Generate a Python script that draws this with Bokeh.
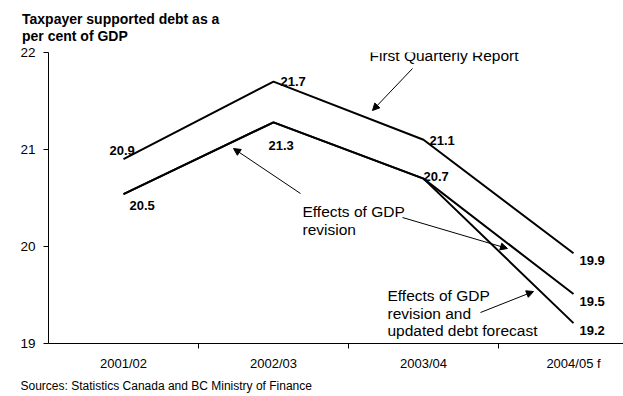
from bokeh.plotting import figure
from bokeh.models import Range1d, FixedTicker, Label, Arrow, NormalHead, ColumnDataSource, Title
from bokeh.core.properties import value
from bokeh.embed import file_html
from bokeh.resources import INLINE

# ---- data ----
periods = ["2001/02", "2002/03", "2003/04", "2004/05 f"]
first_quarterly = [20.9, 21.7, 21.1, 19.93]
gdp_revision = [20.54, 21.28, 20.7, 19.51]
gdp_and_debt = [20.54, 21.28, 20.7, 19.21]
y_ticks = [19, 20, 21, 22]

title_lines = ["Taxpayer supported debt as a", "per cent of GDP"]
source_text = "Sources: Statistics Canada and BC Ministry of Finance"

# ---- layout ----
FONT = "Liberation Sans"
W, H = 623, 396
LEFT, TOP, BOTTOM = 48, 52, 53
CAT_W = 150
FRAME_H = H - TOP - BOTTOM
Y0, Y1 = 19, 22


def dx(px):
    return (px - LEFT) / CAT_W - 0.5


def dy(py):
    return Y1 - (py - TOP) * (Y1 - Y0) / FRAME_H


xs = list(range(len(periods)))
x_end = (W - LEFT) / CAT_W - 0.5

p = figure(width=W, height=H, output_backend="svg", toolbar_location=None,
           x_range=Range1d(-0.5, x_end), y_range=Range1d(Y0, Y1),
           min_border_left=LEFT, min_border_right=0,
           min_border_top=TOP, min_border_bottom=BOTTOM)
p.title.visible = False
p.outline_line_color = None
p.grid.visible = False
p.background_fill_color = "white"
p.border_fill_color = "white"

for series in (first_quarterly, gdp_revision, gdp_and_debt):
    p.line(xs, series, line_color="black", line_width=2)

# ---- axes ----
ya = p.yaxis[0]
ya.ticker = FixedTicker(ticks=y_ticks, minor_ticks=[])
ya.axis_line_color = "black"
ya.major_tick_line_color = "black"
ya.major_tick_out = 5
ya.major_tick_in = 0
ya.minor_tick_line_color = None
ya.major_label_standoff = 8
ya.major_label_text_font = FONT
ya.major_label_text_font_size = "13.5px"
ya.major_label_text_color = "black"

xa = p.xaxis[0]
xa.ticker = FixedTicker(ticks=xs, minor_ticks=[i + 0.5 for i in xs[:-1]])
xa.major_label_overrides = {i: lab for i, lab in zip(xs, periods)}
xa.axis_line_color = "black"
xa.major_tick_line_color = None
xa.major_tick_out = 0
xa.major_tick_in = 0
xa.minor_tick_line_color = "black"
xa.minor_tick_out = 5
xa.minor_tick_in = 0
xa.major_label_standoff = 7
xa.major_label_text_font = FONT
xa.major_label_text_font_size = "13px"
xa.major_label_text_color = "black"

# ---- value labels ----
a_off = [(-14, -9), (7, 0), (6, 1), (6, 7)]
b_off = [(6, 11), (-5, 23), (0, -2), (6, 7)]
c_off = [(6, 7)]
lx, ly, lt, ox, oy = [], [], [], [], []
for i, v in enumerate(first_quarterly):
    lx.append(xs[i]); ly.append(v); lt.append(f"{v:.1f}")
    ox.append(a_off[i][0]); oy.append(a_off[i][1])
for i, v in enumerate(gdp_revision):
    lx.append(xs[i]); ly.append(v); lt.append(f"{v:.1f}")
    ox.append(b_off[i][0]); oy.append(b_off[i][1])
lx.append(xs[-1]); ly.append(gdp_and_debt[-1]); lt.append(f"{gdp_and_debt[-1]:.1f}")
ox.append(c_off[0][0]); oy.append(c_off[0][1])

src = ColumnDataSource(dict(x=lx, y=ly, text=lt, ox=ox, oy=oy))
p.text(x="x", y="y", text="text", x_offset="ox", y_offset="oy", source=src,
       text_font=value(FONT), text_font_style="bold", text_font_size="13px",
       text_align="left", text_baseline="alphabetic", text_color="black")

# ---- annotations ----
def add_text(px, py, txt, size="15.5px", bold=False):
    p.add_layout(Label(x=dx(px), y=dy(py), text=txt, text_font=FONT,
                       text_font_size=size, text_color="black",
                       text_font_style="bold" if bold else "normal",
                       text_baseline="alphabetic", text_align="left"))


def add_arrow(x0, y0, x1, y1):
    p.add_layout(Arrow(end=NormalHead(size=7, fill_color="black", line_color="black"),
                       x_start=dx(x0), y_start=dy(y0), x_end=dx(x1), y_end=dy(y1),
                       line_color="black", line_width=1))


add_text(369, 55, "First Quarterly Report")
add_arrow(412, 68, 372, 110)

add_text(302, 211, "Effects of GDP")
add_text(302, 228.5, "revision")
add_arrow(300, 193, 233, 148)
add_arrow(402, 217, 507, 248)

add_text(387, 295, "Effects of GDP")
add_text(387, 312.5, "revision and")
add_text(387, 330, "updated debt forecast")
add_arrow(480, 312, 533, 291)

# title (two lines) above the frame, source note below the axis
p.add_layout(Title(text="\n".join(title_lines), align="left", offset=21.5 - LEFT,
                   text_font=FONT, text_font_size="14px", text_font_style="bold",
                   text_color="black", text_line_height=1.08, standoff=16), "above")
p.add_layout(Title(text=source_text, align="left", offset=20 - LEFT,
                   text_font=FONT, text_font_size="12px", text_font_style="normal",
                   text_color="black", standoff=7), "below")

open("out.html", "w").write(file_html(p, INLINE))
